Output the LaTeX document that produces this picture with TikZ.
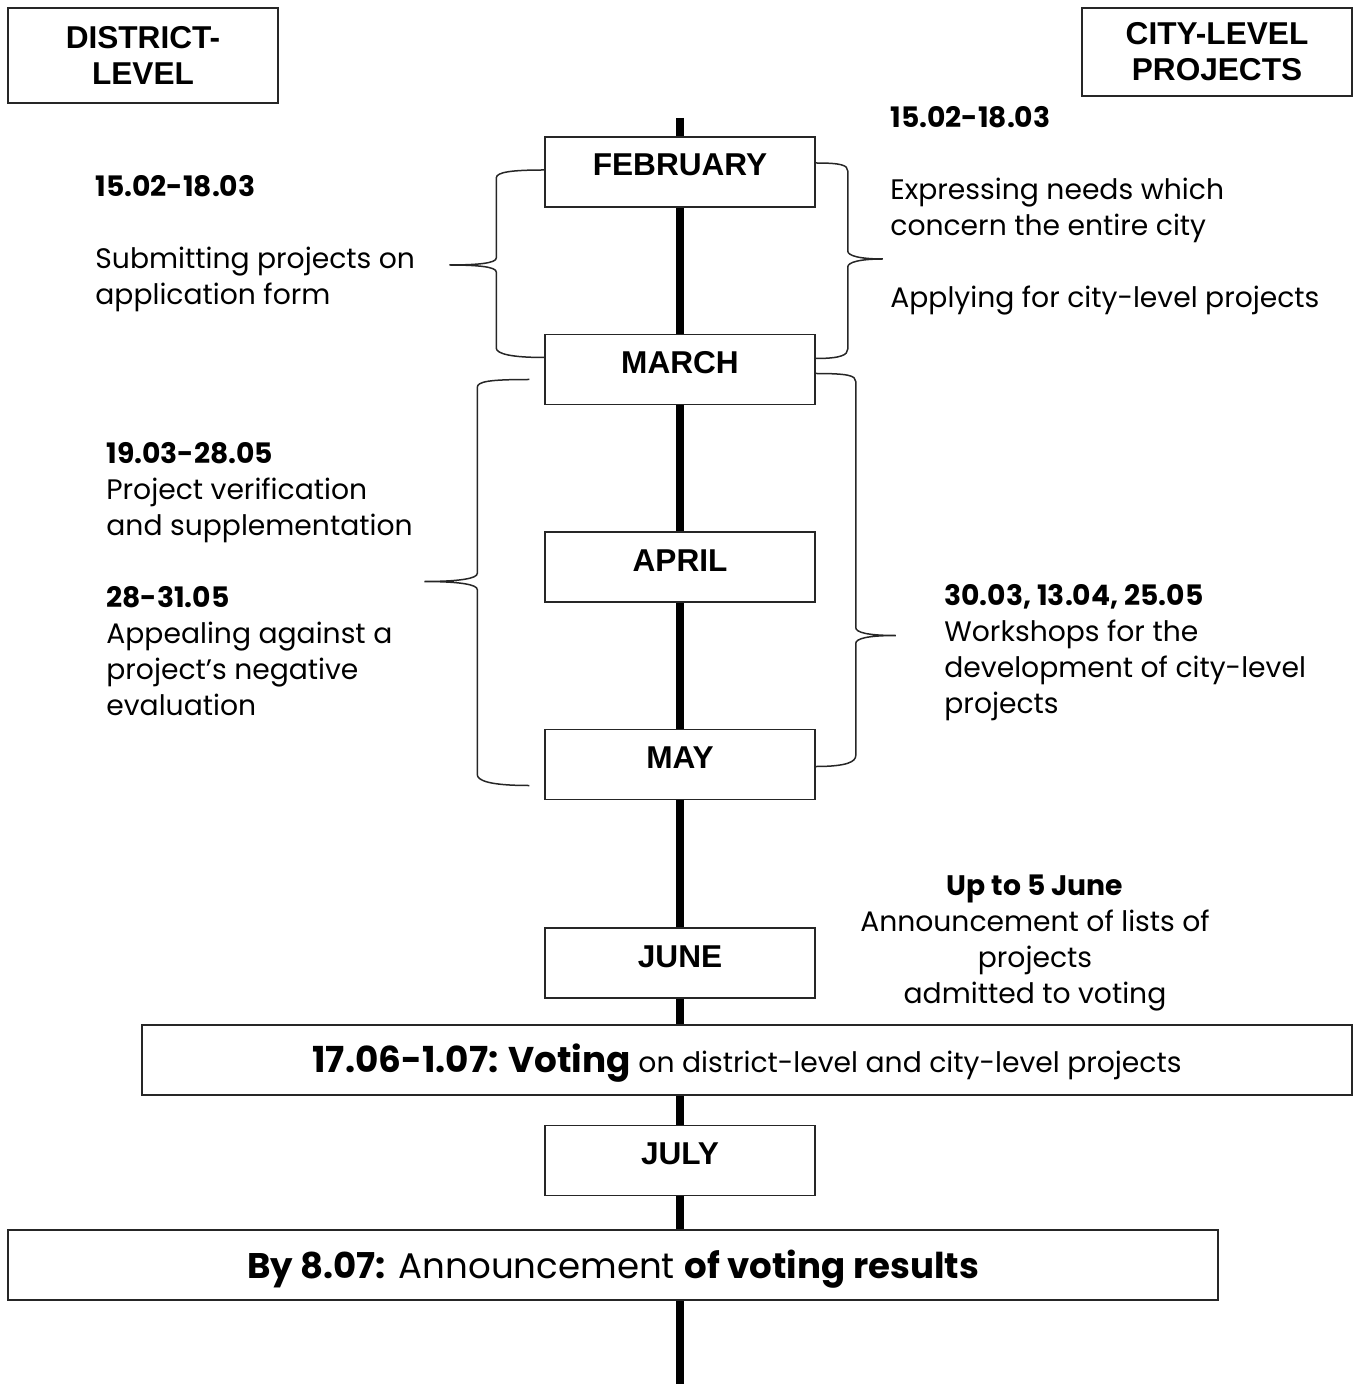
\documentclass[tikz,border=0pt]{standalone}
\usepackage{fontspec}
\setmainfont{Poppins}
\newfontfamily\headfont{Liberation Sans}
\usetikzlibrary{positioning}

\tikzset{
  month/.style={rectangle, draw=black!85, line width=0.75pt, fill=white, minimum width=135pt, inner sep=0pt, text height=19.5pt, text depth=15.5pt, font=\headfont\bfseries\fontsize{15.8}{18}\selectfont},
  header/.style={rectangle, draw=black!85, line width=0.75pt, fill=white, minimum width=135pt, align=center, font=\headfont\bfseries\fontsize{15.8}{18}\selectfont},
  wide/.style={rectangle, draw=black!85, line width=0.75pt, fill=white, minimum width=605pt, inner sep=0pt, font=\fontsize{14.1}{18}\selectfont},
  note/.style={inner sep=0pt, align=left, anchor=base west, font=\fontsize{14.1}{18}\selectfont},
  curly/.style={draw=black!85, line width=0.75pt},
  timeline/.style={line width=4pt}
}

\begin{document}
\begin{tikzpicture}[x=0.5pt, y=-0.5pt]
\useasboundingbox (0,0) rectangle (1359,1384);

% Timeline
\coordinate (top) at (680,118);
\coordinate (bottom) at (680,1384);
\draw[timeline] (top) -- (bottom);

% Headers
\node[header, minimum height=47.5pt] (district) at (143,55.5) {DISTRICT-\\LEVEL};
\node[header, minimum height=44pt] (city) at (1217,52) {CITY-LEVEL\\PROJECTS};

% Months
\node[month] (feb) at (680,172) {FEBRUARY};
\node[month, below=63pt of feb] (mar) {MARCH};
\node[month, below=63pt of mar] (apr) {APRIL};
\node[month, below=63pt of apr] (may) {MAY};
\node[month, below=63.5pt of may] (jun) {JUNE};
\node[month, below=63pt of jun] (jul) {JULY};

% Voting and results
\node[wide, text height=23.5pt, text depth=11.5pt] (vote) at (747,1060) {{\fontsize{17.9}{20}\selectfont\bfseries 17.06-1.07: Voting} on district-level and city-level projects};
\node[wide, text height=24pt, text depth=11pt, font=\fontsize{17.8}{20}\selectfont] (result) at (613,1265) {\textbf{By 8.07:} Announcement \textbf{of voting results}};

% District-level side (base = last line)
\node[note] (dsubmit) at (95,305) {\textbf{15.02-18.03}\\[18pt] Submitting projects on\\ application form};
\node[note] (dverify) at (106,715) {\textbf{19.03-28.05}\\ Project verification\\ and supplementation\\[18pt] \textbf{28-31.05}\\ Appealing against a\\ project’s negative\\ evaluation};

% City-level side
\node[note] (cneeds) at (890,308) {\textbf{15.02-18.03}\\[18pt] Expressing needs which\\ concern the entire city\\[18pt] Applying for city-level projects};
\node[note] (cworkshop) at (944,713) {\textbf{30.03, 13.04, 25.05}\\ Workshops for the\\ development of city-level\\ projects};
\node[note, align=center, anchor=base] (clists) at (1035,1003) {\textbf{Up to 5 June}\\ Announcement of lists of\\ projects\\ admitted to voting};

% Braces
\draw[curly] ([yshift=1pt]feb.west) .. controls +(-32,0) and +(0,-6) .. ++(-48,8)
  -- ++(0,80) .. controls +(0,5) and +(30,0) .. ++(-47,7)
  .. controls +(30,0) and +(0,-5) .. ++(47,7)
  -- ++(0,76) .. controls +(0,6) and +(-32,0) .. ([yshift=6pt]mar.west);
\draw[curly] ([yshift=4.5pt]feb.east) .. controls +(25,0) and +(0,-6) .. ++(32,8)
  -- ++(0,80) .. controls +(0,5) and +(-22,0) .. ++(35,8)
  .. controls +(-22,0) and +(0,-5) .. ++(-35,8)
  -- ++(0,82) .. controls +(0,6) and +(25,0) .. ([yshift=5.5pt]mar.east);
\draw[curly] ([xshift=-7.5pt,yshift=-5pt]mar.west) .. controls +(-40,0) and +(0,-6) .. ++(-52,8)
  -- ++(0,186) .. controls +(0,5) and +(35,0) .. ++(-53,8)
  .. controls +(35,0) and +(0,-5) .. ++(53,8)
  -- ++(0,185) .. controls +(0,6) and +(-40,0) .. ([xshift=-7.5pt,yshift=-10.5pt]may.west);
\draw[curly] ([yshift=-2pt]mar.east) .. controls +(32,0) and +(0,-6) .. ++(40,8)
  -- ++(0,246) .. controls +(0,5) and +(-28,0) .. ++(40,8)
  .. controls +(-28,0) and +(0,-5) .. ++(-40,8)
  -- ++(0,112) .. controls +(0,6) and +(32,0) .. ([yshift=-1pt]may.east);
\end{tikzpicture}
\end{document}
